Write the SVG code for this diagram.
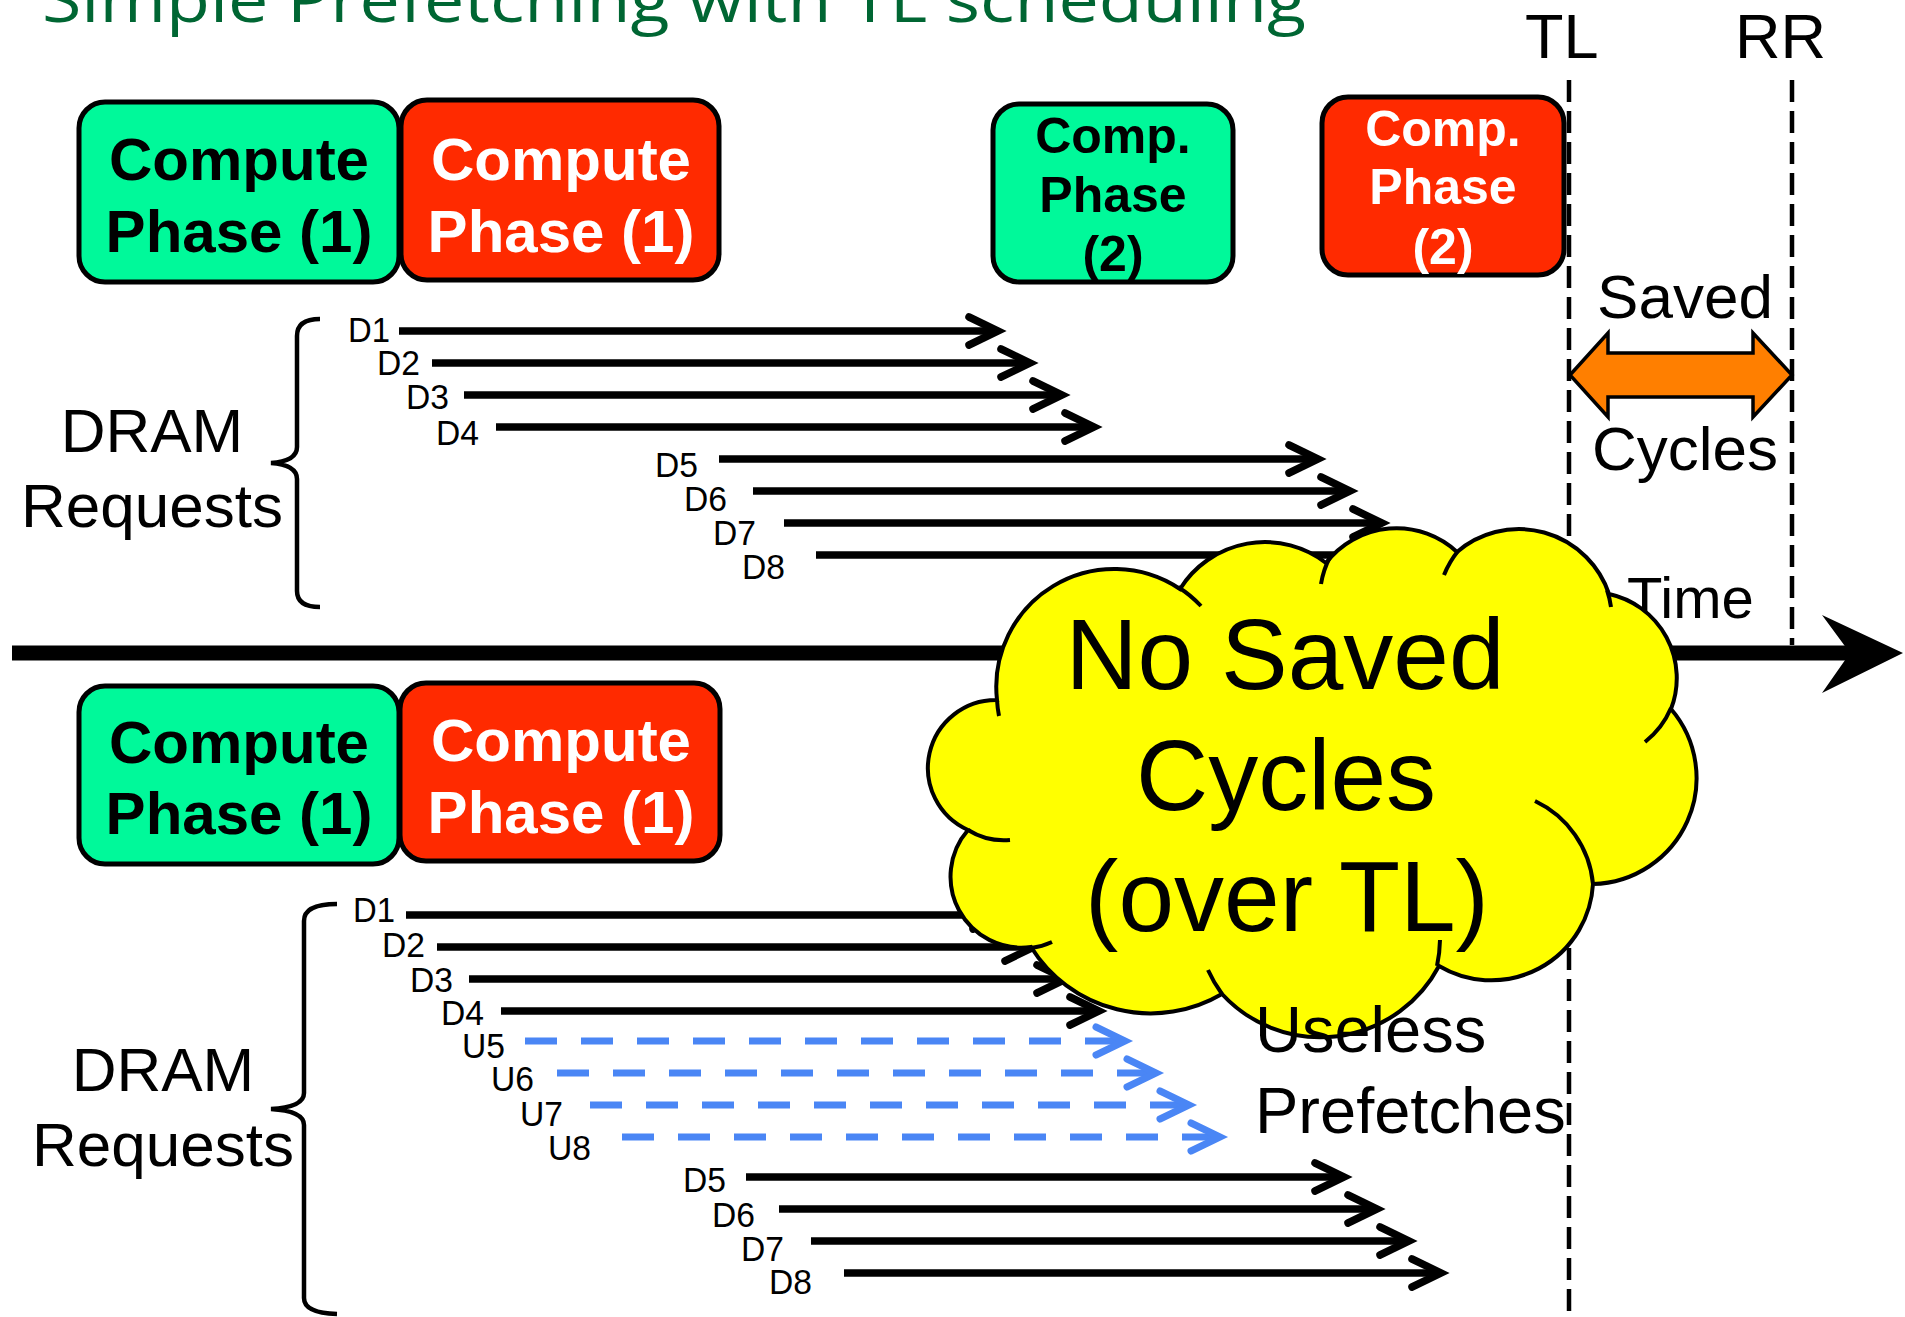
<svg xmlns="http://www.w3.org/2000/svg" width="1905" height="1317" viewBox="0 0 1905 1317">
  <defs>
    <style>
      .sans { font-family: "Liberation Sans", Arial, sans-serif; }
      .box-g { fill: #00F99A; stroke: #000; stroke-width: 5; }
      .box-r { fill: #FF2A00; stroke: #000; stroke-width: 5; }
      .bt { font-family: "Liberation Sans", Arial, sans-serif; font-weight: bold; text-anchor: middle; }
      .bt-k { fill: #000; }
      .bt-w { fill: #FFF; }
      .req { stroke: #000; stroke-width: 7.5; fill: none; marker-end: url(#chev); }
      .pf { stroke: #4A86F5; stroke-width: 7; stroke-dasharray: 32 24; fill: none; marker-end: url(#chevb); }
      .rl { font-family: "Liberation Sans", Arial, sans-serif; font-size: 35px; fill: #000; }
      .big { font-family: "Liberation Sans", Arial, sans-serif; font-size: 62px; fill: #000; }
      .vdash { stroke: #000; stroke-width: 4.5; stroke-dasharray: 22 9; fill: none; }
      .brace { stroke: #000; stroke-width: 4.5; fill: none; }
    </style>
    <marker id="chev" viewBox="-44 -26 56 52" refX="0" refY="0" markerWidth="56" markerHeight="52" markerUnits="userSpaceOnUse" orient="auto">
      <path d="M-29,-14 L0,0 L-29,14" fill="none" stroke="#000" stroke-width="7.5" stroke-linecap="round" stroke-linejoin="miter"/>
    </marker>
    <marker id="chevb" viewBox="-44 -26 56 52" refX="0" refY="0" markerWidth="56" markerHeight="52" markerUnits="userSpaceOnUse" orient="auto">
      <path d="M-29,-14 L0,0 L-29,14" fill="none" stroke="#4A86F5" stroke-width="7" stroke-linecap="round" stroke-linejoin="miter"/>
    </marker>
    <filter id="soft" x="-5%" y="-100%" width="110%" height="300%">
      <feGaussianBlur stdDeviation="2"/>
    </filter>
  </defs>

  <!-- heading -->
  <text x="42" y="22" font-family="'Open Sans', 'Noto Sans', sans-serif" font-size="62" fill="#006633" textLength="1264" lengthAdjust="spacingAndGlyphs">Simple Prefetching with TL scheduling</text>

  <!-- scheduler markers -->
  <text class="sans" x="1525" y="58" font-size="63">TL</text>
  <text class="sans" x="1735" y="58" font-size="63">RR</text>

  <!-- upper timeline: compute phases -->
  <g id="up-compute1-tl">
    <rect class="box-g" x="79" y="102" width="320" height="180" rx="26"/>
    <text class="bt bt-k" x="239" y="180" font-size="60">Compute</text>
    <text class="bt bt-k" x="239" y="252" font-size="60">Phase (1)</text>
  </g>
  <g id="up-compute1-rr">
    <rect class="box-r" x="401" y="100" width="318" height="180" rx="26"/>
    <text class="bt bt-w" x="561" y="180" font-size="60">Compute</text>
    <text class="bt bt-w" x="561" y="252" font-size="60">Phase (1)</text>
  </g>
  <g id="up-compute2-tl">
    <rect class="box-g" x="993" y="104" width="240" height="178" rx="26"/>
    <text class="bt bt-k" x="1113" y="153" font-size="50">Comp.</text>
    <text class="bt bt-k" x="1113" y="212" font-size="50">Phase</text>
    <text class="bt bt-k" x="1113" y="271" font-size="50">(2)</text>
  </g>
  <g id="up-compute2-rr">
    <rect class="box-r" x="1322" y="97" width="242" height="178" rx="26"/>
    <text class="bt bt-w" x="1443" y="146" font-size="50">Comp.</text>
    <text class="bt bt-w" x="1443" y="204" font-size="50">Phase</text>
    <text class="bt bt-w" x="1443" y="264" font-size="50">(2)</text>
  </g>

  <!-- lower timeline: compute phases -->
  <g id="low-compute1-tl">
    <rect class="box-g" x="79" y="686" width="320" height="178" rx="26"/>
    <text class="bt bt-k" x="239" y="763" font-size="60">Compute</text>
    <text class="bt bt-k" x="239" y="834" font-size="60">Phase (1)</text>
  </g>
  <g id="low-compute1-rr">
    <rect class="box-r" x="400" y="683" width="320" height="178" rx="26"/>
    <text class="bt bt-w" x="561" y="761" font-size="60">Compute</text>
    <text class="bt bt-w" x="561" y="833" font-size="60">Phase (1)</text>
  </g>

  <!-- DRAM request groups -->
  <g id="up-dram">
    <text class="big" x="152" y="452" text-anchor="middle">DRAM</text>
    <text class="big" x="152" y="527" text-anchor="middle">Requests</text>
    <path class="brace" d="M320,319 Q297,319 297,336 L297,447 Q297,461 271,463 Q297,465 297,479 L297,591 Q297,607 320,607"/>
  </g>
  <g id="low-dram">
    <text class="big" x="163" y="1091" text-anchor="middle">DRAM</text>
    <text class="big" x="163" y="1166" text-anchor="middle">Requests</text>
    <path class="brace" d="M337,904 Q304,904 304,921 L304,1093 Q304,1107 271,1109 Q304,1111 304,1125 L304,1298 Q304,1313 337,1314"/>
  </g>

  <!-- vertical scheduler lines -->
  <g id="guides">
    <line class="vdash" x1="1569" y1="80" x2="1569" y2="1317"/>
    <line class="vdash" x1="1792" y1="80" x2="1792" y2="645"/>
  </g>

  <!-- request labels -->
  <g id="up-labels">
    <text class="rl" x="348" y="342" textLength="42" lengthAdjust="spacingAndGlyphs">D1</text>
    <text class="rl" x="377" y="375" textLength="43" lengthAdjust="spacingAndGlyphs">D2</text>
    <text class="rl" x="406" y="409" textLength="43" lengthAdjust="spacingAndGlyphs">D3</text>
    <text class="rl" x="436" y="445" textLength="43" lengthAdjust="spacingAndGlyphs">D4</text>
    <text class="rl" x="655" y="477" textLength="43" lengthAdjust="spacingAndGlyphs">D5</text>
    <text class="rl" x="684" y="511" textLength="43" lengthAdjust="spacingAndGlyphs">D6</text>
    <text class="rl" x="713" y="545" textLength="43" lengthAdjust="spacingAndGlyphs">D7</text>
    <text class="rl" x="742" y="579" textLength="43" lengthAdjust="spacingAndGlyphs">D8</text>
  </g>
  <g id="low-labels">
    <text class="rl" x="353" y="922" textLength="42" lengthAdjust="spacingAndGlyphs">D1</text>
    <text class="rl" x="382" y="957" textLength="43" lengthAdjust="spacingAndGlyphs">D2</text>
    <text class="rl" x="410" y="992" textLength="43" lengthAdjust="spacingAndGlyphs">D3</text>
    <text class="rl" x="441" y="1025" textLength="43" lengthAdjust="spacingAndGlyphs">D4</text>
    <text class="rl" x="462" y="1058" textLength="43" lengthAdjust="spacingAndGlyphs">U5</text>
    <text class="rl" x="491" y="1091" textLength="43" lengthAdjust="spacingAndGlyphs">U6</text>
    <text class="rl" x="520" y="1126" textLength="43" lengthAdjust="spacingAndGlyphs">U7</text>
    <text class="rl" x="548" y="1160" textLength="43" lengthAdjust="spacingAndGlyphs">U8</text>
    <text class="rl" x="683" y="1192" textLength="43" lengthAdjust="spacingAndGlyphs">D5</text>
    <text class="rl" x="712" y="1227" textLength="43" lengthAdjust="spacingAndGlyphs">D6</text>
    <text class="rl" x="741" y="1261" textLength="43" lengthAdjust="spacingAndGlyphs">D7</text>
    <text class="rl" x="769" y="1294" textLength="43" lengthAdjust="spacingAndGlyphs">D8</text>
  </g>

  <!-- request arrows and time axis -->
  <g id="connectors">
    <line class="req" x1="399" y1="331" x2="998" y2="331"/>
    <line class="req" x1="432" y1="363" x2="1030" y2="363"/>
    <line class="req" x1="464" y1="395" x2="1062" y2="395"/>
    <line class="req" x1="496" y1="427" x2="1094" y2="427"/>
    <line class="req" x1="719" y1="459" x2="1318" y2="459"/>
    <line class="req" x1="753" y1="491" x2="1350" y2="491"/>
    <line class="req" x1="784" y1="523" x2="1382" y2="523"/>
    <line class="req" x1="816" y1="555" x2="1414" y2="555"/>

    <line class="req" x1="406" y1="915" x2="1002" y2="915"/>
    <line class="req" x1="437" y1="947" x2="1034" y2="947"/>
    <line class="req" x1="469" y1="979" x2="1066" y2="979"/>
    <line class="req" x1="501" y1="1011" x2="1099" y2="1011"/>
    <line class="pf" x1="525" y1="1041" x2="1125" y2="1041"/>
    <line class="pf" x1="557" y1="1073" x2="1156" y2="1073"/>
    <line class="pf" x1="590" y1="1105" x2="1189" y2="1105"/>
    <line class="pf" x1="622" y1="1137" x2="1220" y2="1137"/>
    <line class="req" x1="746" y1="1177" x2="1344" y2="1177"/>
    <line class="req" x1="779" y1="1209" x2="1377" y2="1209"/>
    <line class="req" x1="811" y1="1241" x2="1409" y2="1241"/>
    <line class="req" x1="844" y1="1273" x2="1441" y2="1273"/>

    <!-- time axis -->
    <line x1="14" y1="658" x2="1850" y2="658" stroke="#888" stroke-width="12" opacity="0.45" filter="url(#soft)"/>
    <line x1="12" y1="653" x2="1852" y2="653" stroke="#000" stroke-width="15"/>
    <polygon points="1903,653 1822,615 1850,653 1822,693" fill="#000"/>
  </g>

  <text class="sans" x="1627" y="618" font-size="58">Time</text>

  <!-- saved cycles span -->
  <g id="saved-cycles">
    <text class="big" x="1685" y="318" text-anchor="middle">Saved</text>
    <polygon points="1570,375 1608,333 1608,353 1753,353 1753,333 1792,375 1753,417 1753,397 1608,397 1608,417" fill="#FF7F00" stroke="#000" stroke-width="3.5" stroke-linejoin="miter"/>
    <text class="big" x="1685" y="470" text-anchor="middle">Cycles</text>
  </g>

  <!-- callout cloud -->
  <g id="cloud">
    <path d="M997,700 A118,118 0 0 1 1180,589 A100,100 0 0 1 1326,563 A89,89 0 0 1 1457,552 A95,95 0 0 1 1609,594 A86,86 0 0 1 1671,709 A106,106 0 0 1 1593,884 A102,102 0 0 1 1439,966 A134,134 0 0 1 1222,994 A141,141 0 0 1 1031,947 A71,71 0 0 1 968,830 A68,68 0 0 1 997,700 Z" fill="#FFFF00" stroke="#000" stroke-width="4"/>
    <path d="M999,716 A118,118 0 0 1 997,700 M1178,587 A118,118 0 0 1 1201,606 M1321,584 A89,89 0 0 1 1330,557 M1444,575 A95,95 0 0 1 1458,551 M1607,590 A95,95 0 0 1 1611,607 M1671,708 A86,86 0 0 1 1645,742 M1535,801 A102,102 0 0 1 1593,884 M1440,940 A134,134 0 0 1 1437,966 M1222,994 A134,134 0 0 1 1208,970 M1052,942 A71,71 0 0 1 1031,948 M1010,840 A68,68 0 0 1 968,830" fill="none" stroke="#000" stroke-width="4"/>
    <text class="sans" x="1285" y="689" font-size="100" text-anchor="middle">No Saved</text>
    <text class="sans" x="1286" y="810" font-size="100" text-anchor="middle">Cycles</text>
    <text class="sans" x="1287" y="931" font-size="100" text-anchor="middle">(over TL)</text>
  </g>

  <g id="useless-note">
    <text class="sans" x="1255" y="1052" font-size="65">Useless</text>
    <text class="sans" x="1255" y="1133" font-size="65">Prefetches</text>
  </g>
</svg>
